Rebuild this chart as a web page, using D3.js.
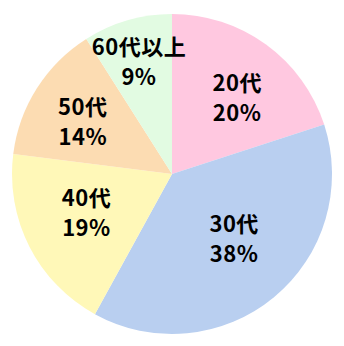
<!DOCTYPE html>
<html lang="ja">
<head>
<meta charset="utf-8" />
<title>年代別構成比</title>
<style>
  * {margin: 0; padding: 0;}
  body {background: #fff;}
  text {font-family: "Noto Sans CJK JP", "Noto Sans", sans-serif; font-weight: bold; font-size: 22px; fill: #000; letter-spacing: 0.5px;}
</style>
</head>
<body>
<div id="viz"></div>
<script src="https://cdn.jsdelivr.net/npm/d3@7"></script>
<script>
var categories = ["20代", "30代", "40代", "50代", "60代以上"];
var values = [20, 38, 19, 14, 9];
var colors = ["#ffc8e0", "#b9cff0", "#fff8b8", "#fcdcb2", "#e2fbe2"];

var w = 344, h = 346;
var cx = 172, cy = 174, r = 160;

var svg = d3.select("#viz").append("svg").attr("width", w).attr("height", h);

var pie = d3.pie().sort(null).value(function(d){ return d; });
var arcs = pie(values);
var arc = d3.arc().innerRadius(0).outerRadius(r);

var g = svg.append("g").attr("transform", "translate(" + cx + "," + cy + ")");

g.selectAll("path")
  .data(arcs)
  .enter()
  .append("path")
  .attr("d", arc)
  .style("fill", function(d, i){ return colors[i]; });

// label radius per slice (fraction of r) plus small nudges, tuned by eye
var labelR = [0.64, 0.57, 0.60, 0.66, 0.74];
var nudge = [[5, 5], [4, -7], [0, -7], [0, 3], [0, 0]];

var lab = g.selectAll("g.lab")
  .data(arcs)
  .enter()
  .append("g")
  .attr("class", "lab")
  .attr("transform", function(d, i){
    var a = d3.arc().innerRadius(r * labelR[i]).outerRadius(r * labelR[i]);
    var c = a.centroid(d);
    return "translate(" + (c[0] + nudge[i][0]) + "," + (c[1] + nudge[i][1]) + ")";
  });

lab.append("text")
  .attr("text-anchor", "middle")
  .attr("dominant-baseline", "central")
  .attr("y", -15)
  .text(function(d, i){ return categories[i]; });

lab.append("text")
  .attr("text-anchor", "middle")
  .attr("dominant-baseline", "central")
  .attr("y", 15)
  .text(function(d){ return d.data + "%"; });
</script>
</body>
</html>
